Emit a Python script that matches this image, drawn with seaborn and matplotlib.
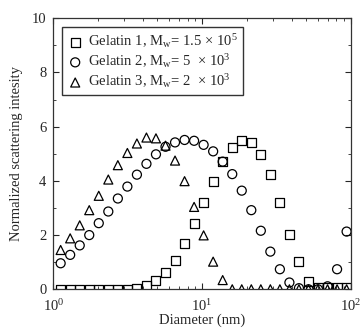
import numpy as np
import pandas as pd
import seaborn as sns
import matplotlib.pyplot as plt
from matplotlib.ticker import LogLocator, MultipleLocator, NullFormatter

# diameter bins (nm)
diameter = [1.120, 1.298, 1.505, 1.744, 2.021, 2.343, 2.716, 3.148, 3.649, 4.229,
            4.901, 5.681, 6.585, 7.632, 8.846, 10.25, 11.88, 13.77, 15.97, 18.50,
            21.45, 24.86, 28.81, 33.39, 38.70, 44.86, 51.99, 60.26, 69.85, 80.96, 93.83]

gelatin1 = [0, 0, 0, 0, 0, 0, 0, 0, 0.02, 0.13, 0.34, 0.63, 1.08, 1.70, 2.43, 3.22,
            3.99, 4.71, 5.22, 5.50, 5.40, 4.98, 4.22, 3.20, 2.04, 1.02, 0.28, 0.05,
            0.05, 0.05, 0.05]
gelatin2 = [0.96, 1.27, 1.62, 2.00, 2.44, 2.87, 3.35, 3.79, 4.23, 4.63, 4.98, 5.26,
            5.42, 5.51, 5.48, 5.33, 5.09, 4.71, 4.25, 3.64, 2.92, 2.16, 1.39, 0.74,
            0.25, 0.04, 0.0, 0.0, 0.11, 0.74, 2.13]
gelatin3 = [1.45, 1.88, 2.36, 2.92, 3.45, 4.05, 4.58, 5.03, 5.38, 5.60, 5.57, 5.30,
            4.75, 3.99, 3.04, 1.99, 1.02, 0.34, 0, 0, 0, 0, 0, 0, 0, 0, 0, 0, 0, 0, 0]

labels = [r"Gelatin 1, M$_\mathregular{w}$= 1.5 × 10$^\mathregular{5}$",
          r"Gelatin 2, M$_\mathregular{w}$= 5  × 10$^\mathregular{3}$",
          r"Gelatin 3, M$_\mathregular{w}$= 2  × 10$^\mathregular{3}$"]
markers = ["s", "o", "^"]

sns.set_style("ticks")
plt.rcParams['font.family'] = ['Liberation Serif', 'DejaVu Serif']
plt.rcParams['mathtext.fontset'] = 'stix'

fig = plt.figure(figsize=(3.64, 3.29), dpi=100)
ax = fig.add_axes([0.1465, 0.1207, 0.817, 0.8237])

for vals, lab, m in zip([gelatin1, gelatin2, gelatin3], labels, markers):
    df = pd.DataFrame({"d": diameter, "v": vals})
    sns.scatterplot(data=df, x="d", y="v", marker=m, s=42, color="black",
                    facecolor="none", edgecolor="black", linewidth=0.9,
                    label=lab, ax=ax)

ax.set_xscale("log")
ax.set_xlim(1, 100)
ax.set_ylim(0, 10)
ax.xaxis.set_major_locator(LogLocator(base=10, numticks=5))
ax.xaxis.set_minor_locator(LogLocator(base=10, subs=np.arange(2, 10), numticks=20))
ax.xaxis.set_minor_formatter(NullFormatter())
ax.yaxis.set_major_locator(MultipleLocator(2))
ax.yaxis.set_minor_locator(MultipleLocator(1))
ax.tick_params(which="both", direction="in", top=True, right=True, labelsize=10.5)
ax.tick_params(which="major", length=4, width=0.8)
ax.tick_params(which="minor", length=2, width=0.6)
ax.tick_params(axis="x", which="major", pad=6)
ax.tick_params(axis="y", which="major", pad=5)
for sp in ax.spines.values():
    sp.set_color("#333333")
    sp.set_linewidth(0.9)

ax.set_xlabel("Diameter (nm)", fontsize=10.5, labelpad=0)
ax.set_ylabel("Normalized scattering intesity", fontsize=10.5, labelpad=6)

leg = ax.legend(loc="upper left", fontsize=10.5, frameon=True, fancybox=False,
                edgecolor="black", handletextpad=0.3, borderpad=0.3,
                labelspacing=0.1, borderaxespad=0.6, handlelength=1.2)
leg.get_frame().set_linewidth(1.0)

fig.savefig("out.png", dpi=100)
